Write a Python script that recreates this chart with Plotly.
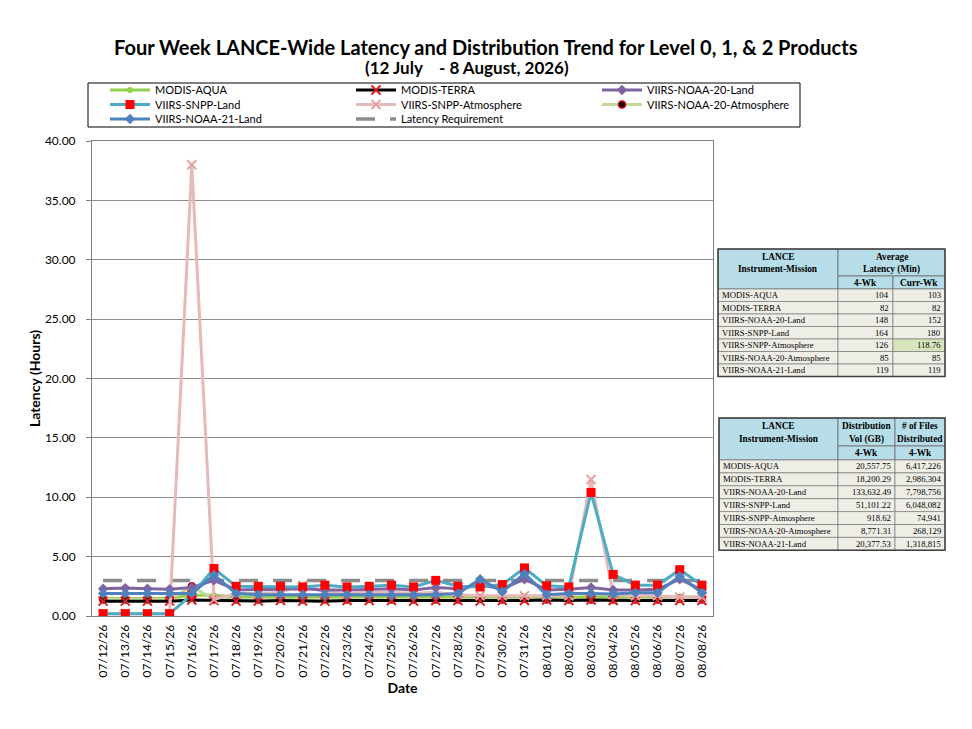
import plotly.graph_objects as go

# ---------------- data ----------------
dates = ["07/12/26", "07/13/26", "07/14/26", "07/15/26", "07/16/26", "07/17/26", "07/18/26",
         "07/19/26", "07/20/26", "07/21/26", "07/22/26", "07/23/26", "07/24/26", "07/25/26",
         "07/26/26", "07/27/26", "07/28/26", "07/29/26", "07/30/26", "07/31/26", "08/01/26",
         "08/02/26", "08/03/26", "08/04/26", "08/05/26", "08/06/26", "08/07/26", "08/08/26"]

modis_aqua = [1.45, 1.45, 1.45, 1.5, 1.75, 1.75, 1.6, 1.6, 1.65, 1.6, 1.6, 1.6, 1.65, 1.6,
              1.6, 1.6, 1.6, 1.65, 1.6, 1.65, 1.6, 1.6, 1.6, 1.6, 1.6, 1.6, 1.65, 1.6]
modis_terra = [1.25, 1.25, 1.25, 1.25, 1.35, 1.3, 1.25, 1.25, 1.3, 1.25, 1.25, 1.3, 1.3, 1.3,
               1.25, 1.3, 1.3, 1.25, 1.3, 1.3, 1.35, 1.3, 1.35, 1.3, 1.3, 1.3, 1.3, 1.3]
noaa20_land = [2.3, 2.35, 2.3, 2.25, 2.4, 3.0, 2.2, 2.2, 2.25, 2.3, 2.2, 2.2, 2.25, 2.3,
               2.2, 2.4, 2.3, 2.6, 2.3, 3.1, 2.2, 2.25, 2.4, 2.2, 2.2, 2.25, 3.1, 2.2]
snpp_land = [0.2, 0.2, 0.2, 0.2, 1.8, 4.0, 2.5, 2.5, 2.5, 2.45, 2.6, 2.45, 2.5, 2.6,
             2.45, 3.0, 2.5, 2.45, 2.65, 4.05, 2.55, 2.45, 10.4, 3.5, 2.6, 2.6, 3.9, 2.6]
snpp_atm = [0.2, 0.2, 0.2, 0.2, 38.0, 1.4, 1.9, 1.9, 2.0, 2.6, 2.0, 1.9, 2.0, 2.0,
            1.9, 2.0, 1.8, 1.7, 1.7, 1.7, 1.7, 1.7, 11.5, 1.8, 1.7, 1.7, 1.6, 1.6]
noaa20_atm = [1.4, 1.4, 1.4, 1.4, 2.5, 1.4, 1.4, 1.4, 1.45, 1.4, 1.4, 1.4, 1.45, 1.4,
              1.4, 1.4, 1.4, 1.45, 1.4, 1.45, 1.4, 1.4, 1.4, 1.4, 1.4, 1.4, 1.45, 1.4]
noaa21_land = [1.9, 1.9, 1.9, 1.9, 1.9, 3.45, 1.9, 1.8, 1.8, 1.8, 1.75, 1.8, 1.8, 1.75,
               1.75, 1.8, 1.9, 3.1, 2.05, 3.55, 1.8, 1.9, 1.9, 1.85, 1.95, 1.95, 3.35, 1.95]
latency_req = [3.0, 3.0, 3.0, 3.0, 3.0, 3.0, 3.0, 3.0, 3.0, 3.0, 3.0, 3.0, 3.0, 3.0,
               3.0, 3.0, 3.0, 3.0, 3.0, 3.0, 3.0, 3.0, 3.0, 3.0, 3.0, 3.0, 3.0, 3.0]

y_ticks = [0, 5, 10, 15, 20, 25, 30, 35, 40]

missions = ["MODIS-AQUA", "MODIS-TERRA", "VIIRS-NOAA-20-Land", "VIIRS-SNPP-Land",
            "VIIRS-SNPP-Atmosphere", "VIIRS-NOAA-20-Atmosphere", "VIIRS-NOAA-21-Land"]
latency_4wk = ["104", "82", "148", "164", "126", "85", "119"]
latency_curr = ["103", "82", "152", "180", "118.76", "85", "119"]
dist_vol_4wk = ["20,557.75", "18,200.29", "133,632.49", "51,101.22", "918.62", "8,771.31", "20,377.53"]
files_4wk = ["6,417,226", "2,986,304", "7,798,756", "6,048,082", "74,941", "268,129", "1,318,815"]

# ---------------- geometry (page has an 8px body margin) ----------------
OFF = 8
W, H = 956, 713
PL, PR, PT, PB = 92 - OFF, 713 - OFF, 141 - OFF, 616 - OFF


def px(x):
    """reference-window pixel x -> plot paper coordinate"""
    return (x - OFF - PL) / (PR - PL)


def py(y):
    return (PB - (y - OFF)) / (PB - PT)


fig = go.Figure()

LEG_COLS = [105, 351, 597]
LEG_ROWS = [90, 104.5, 119]

series = [
    # name, values, line color, marker, legend slot (row, col)
    ("Latency Requirement", latency_req, "#8C8C8C", None, (2, 1)),
    ("MODIS-AQUA", modis_aqua, "#92D050", dict(symbol="circle", size=6, color="#92D050"), (0, 0)),
    ("VIIRS-NOAA-20-Atmosphere", noaa20_atm, "#C4D79B",
     dict(symbol="circle", size=7, color="#1A0000", line=dict(color="#C00000", width=1.5)), (1, 2)),
    ("MODIS-TERRA", modis_terra, "#000000",
     dict(symbol="x-thin", size=9, color="#E02020", line=dict(color="#E02020", width=2)), (0, 1)),
    ("VIIRS-SNPP-Atmosphere", snpp_atm, "#E6B9B8",
     dict(symbol="x-thin", size=9, color="#E6A0A0", line=dict(color="#E6A0A0", width=2)), (1, 1)),
    ("VIIRS-NOAA-20-Land", noaa20_land, "#8064A2", dict(symbol="diamond", size=8, color="#8064A2"), (0, 2)),
    ("VIIRS-SNPP-Land", snpp_land, "#4BACC6", dict(symbol="square", size=9, color="#FF0000"), (1, 0)),
    ("VIIRS-NOAA-21-Land", noaa21_land, "#4F81BD", dict(symbol="diamond", size=8, color="#4F81BD"), (2, 0)),
]

legend_layouts = {}
for i, (name, vals, col, mk, slot) in enumerate(series):
    lid = "legend" if i == 0 else "legend%d" % (i + 1)
    r, c = slot
    legend_layouts[lid] = dict(orientation="h", x=px(LEG_COLS[c]), y=py(LEG_ROWS[r]),
                               xanchor="left", yanchor="middle", xref="paper", yref="paper",
                               font=dict(size=11, family="Lato", color="black"),
                               bgcolor="rgba(0,0,0,0)", borderwidth=0, itemwidth=40)
    if mk is None:
        fig.add_trace(go.Scatter(x=dates, y=vals, name=name, mode="lines",
                                 line=dict(color=col, width=3.5, dash="19px,15px"), legend=lid))
    else:
        fig.add_trace(go.Scatter(x=dates, y=vals, name=name, mode="lines+markers",
                                 line=dict(color=col, width=3), marker=mk, legend=lid))

shapes = []
annotations = []

# Title
annotations.append(dict(text="<b>Four Week LANCE-Wide Latency and Distribution Trend for Level 0, 1, & 2 Products</b>",
                        x=px(486), y=py(47), xref="paper", yref="paper", showarrow=False,
                        font=dict(size=20, color="black", family="Lato"), xanchor="center", yanchor="middle"))
annotations.append(dict(text="<b>(12 July    - 8 August, 2026)</b>",
                        x=px(467), y=py(67), xref="paper", yref="paper", showarrow=False,
                        font=dict(size=17, color="black", family="Lato"), xanchor="center", yanchor="middle"))

# Legend box
shapes.append(dict(type="rect", xref="paper", yref="paper", x0=px(88), x1=px(800), y0=py(127), y1=py(83),
                   line=dict(color="black", width=1), fillcolor="rgba(0,0,0,0)"))

HDR = "#B7DEE8"
BODY = "#EFEEE6"
HIL = "#D8E4BC"
BORDER = "#6A6A6A"
TFONT = "Liberation Serif"


def rect(x0, y0, x1, y1, fill, lw=0.8, lc=BORDER):
    shapes.append(dict(type="rect", xref="paper", yref="paper", x0=px(x0), x1=px(x1),
                       y0=py(y1), y1=py(y0), fillcolor=fill, line=dict(color=lc, width=lw), layer="above"))


def txt(s, x, y, anchor="center", bold=False, size=8):
    annotations.append(dict(text=("<b>%s</b>" % s) if bold else s, x=px(x), y=py(y), xref="paper", yref="paper",
                            showarrow=False, xanchor=anchor, yanchor="middle",
                            font=dict(size=size, color="black", family=TFONT)))


HS = 9.3
BS = 8.7


def draw_table(xs, ytop, yhdr, ysub, rowh, head2, head3, sub2, sub3, col2, col3, merged, hil_row=None):
    x0, x1, x2, x3 = xs
    rect(x0, ytop, x1, ysub, HDR)
    if merged:
        rect(x1, ytop, x3, yhdr, HDR)
    else:
        rect(x1, ytop, x2, yhdr, HDR)
        rect(x2, ytop, x3, yhdr, HDR)
    rect(x1, yhdr, x2, ysub, HDR)
    rect(x2, yhdr, x3, ysub, HDR)
    txt("LANCE", (x0 + x1) / 2, ytop + (yhdr - ytop) * 0.3, bold=True, size=HS)
    txt("Instrument-Mission", (x0 + x1) / 2, ytop + (yhdr - ytop) * 0.75, bold=True, size=HS)
    if merged:
        txt(head2[0], (x1 + x3) / 2, ytop + (yhdr - ytop) * 0.3, bold=True, size=HS)
        txt(head2[1], (x1 + x3) / 2, ytop + (yhdr - ytop) * 0.75, bold=True, size=HS)
    else:
        txt(head2[0], (x1 + x2) / 2, ytop + (yhdr - ytop) * 0.3, bold=True, size=HS)
        txt(head2[1], (x1 + x2) / 2, ytop + (yhdr - ytop) * 0.75, bold=True, size=HS)
        txt(head3[0], (x2 + x3) / 2, ytop + (yhdr - ytop) * 0.3, bold=True, size=HS)
        txt(head3[1], (x2 + x3) / 2, ytop + (yhdr - ytop) * 0.75, bold=True, size=HS)
    txt(sub2, (x1 + x2) / 2, (yhdr + ysub) / 2, bold=True, size=HS)
    txt(sub3, (x2 + x3) / 2, (yhdr + ysub) / 2, bold=True, size=HS)
    for i, name in enumerate(missions):
        ya = ysub + i * rowh
        yb = ya + rowh
        rect(x0, ya, x1, yb, BODY, lw=0.6)
        rect(x1, ya, x2, yb, BODY, lw=0.6)
        rect(x2, ya, x3, yb, HIL if hil_row == i else BODY, lw=0.6)
        ym = (ya + yb) / 2
        txt(name, x0 + 2, ym, anchor="left", size=BS)
        txt(col2[i], x2 - 2, ym, anchor="right", size=BS)
        txt(col3[i], x3 - 2, ym, anchor="right", size=BS)
    rect(x0, ytop, x3, ysub + rowh * len(missions), "rgba(0,0,0,0)", lw=1.5, lc="#404040")


draw_table((718, 838, 893, 945), 249, 276, 289, 12.5,
           ("Average", "Latency (Min)"), None, "4-Wk", "Curr-Wk",
           latency_4wk, latency_curr, merged=True, hil_row=4)
draw_table((719, 838, 895, 945), 418, 446, 460, 12.9,
           ("Distribution", "Vol (GB)"), ("# of Files", "Distributed"), "4-Wk", "4-Wk",
           dist_vol_4wk, files_4wk, merged=False)

fig.update_layout(
    width=W, height=H,
    margin=dict(l=PL, r=W - PR, t=PT, b=H - PB, pad=0, autoexpand=False),
    paper_bgcolor="white", plot_bgcolor="white",
    font=dict(family="Lato", color="black"),
    showlegend=True,
    shapes=shapes,
    annotations=annotations,
    **legend_layouts,
)

fig.update_xaxes(type="category", range=[-0.5, 27.5], tickangle=-90,
                 tickfont=dict(size=12, family="Lato", color="black"),
                 showline=True, linecolor="#7F7F7F", linewidth=1, mirror=True,
                 ticks="", showgrid=False, ticklabelstandoff=3,
                 title=dict(text="<b>Date</b>", font=dict(size=14, family="Lato", color="black"), standoff=6))
fig.update_yaxes(range=[0, 40], tickvals=y_ticks, tickformat=".2f",
                 tickfont=dict(size=12, family="Lato", color="black"),
                 showline=True, linecolor="#7F7F7F", linewidth=1, mirror=True,
                 ticks="outside", ticklen=5, tickcolor="#7F7F7F", ticklabelstandoff=8,
                 showgrid=True, gridcolor="#8C8C8C", gridwidth=1, zeroline=False,
                 title=dict(text="<b>Latency (Hours)</b>", font=dict(size=14, family="Lato", color="black"),
                            standoff=1))

fig.write_html("out.html")
